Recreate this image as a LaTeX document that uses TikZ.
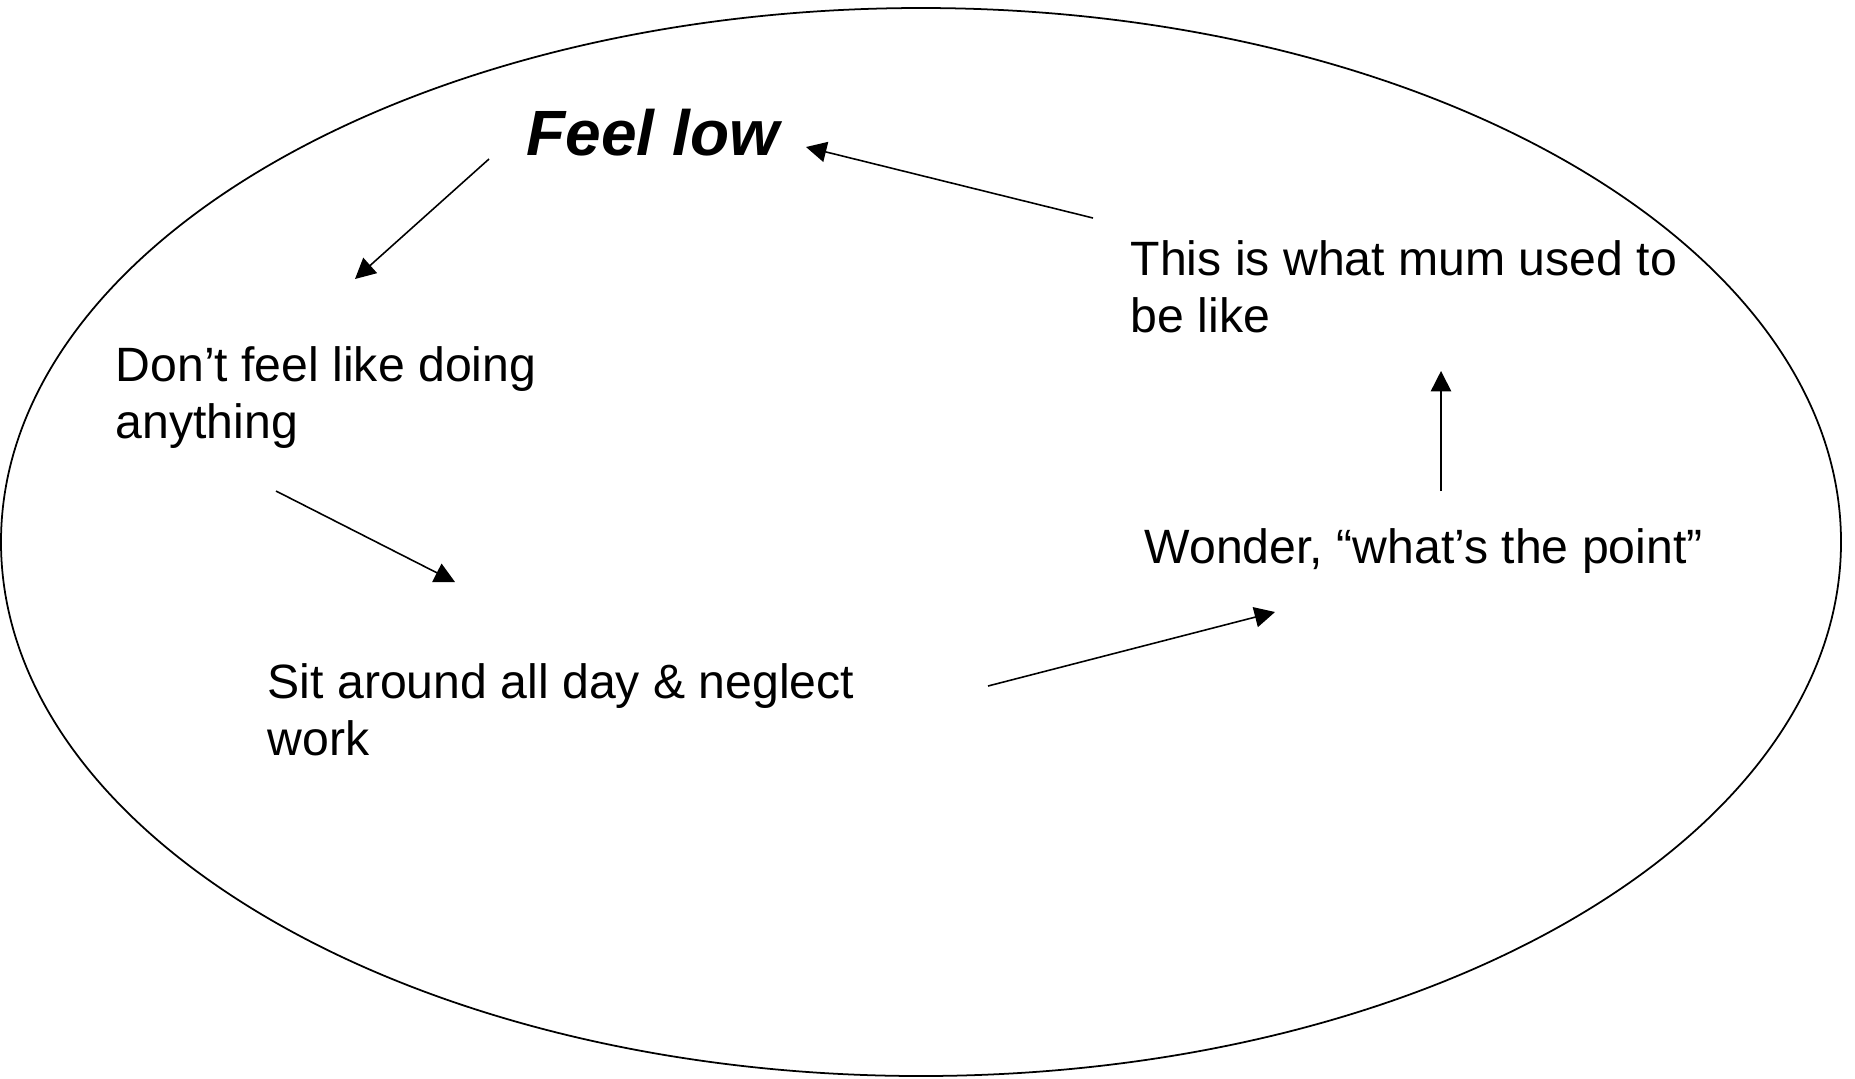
\documentclass[tikz,border=0pt]{standalone}
\usepackage{fontspec}
\setmainfont{Liberation Sans}
\usetikzlibrary{arrows.meta}

\begin{document}
\begin{tikzpicture}[x=0.01cm, y=-0.01cm, >={Triangle[length=5.8pt,width=5.8pt]},
    lbl/.style={anchor=base west, inner sep=0pt, align=left, font=\fontsize{13.7}{16}\selectfont},
    step arrow/.style={->, line width=0.45pt}]
    \useasboundingbox (0,0) rectangle (1855,1078);

    % the cycle
    \draw[line width=0.5pt] (921,542) ellipse [x radius=920, y radius=534];

    % two-line labels sit on their last baseline
    \node[lbl, font=\fontsize{18.2}{22}\selectfont\bfseries\itshape] (low) at (526,155) {Feel low};
    \node[lbl] (idle) at (115,438) {Don’t feel like doing\\anything};
    \node[lbl] (sit) at (267,755) {Sit around all day \& neglect\\work};
    \node[lbl] (point) at (1144,563) {Wonder, “what’s the point”};
    \node[lbl] (mum) at (1130,332) {This is what mum used to\\be like};

    \coordinate (low-out) at (489,159);
    \coordinate (idle-in) at (355,279);
    \coordinate (idle-out) at (276,491);
    \coordinate (sit-in) at (455,582);
    \coordinate (sit-out) at (988,686);
    \coordinate (point-in) at (1275,612);
    \coordinate (point-out) at (1441,491);
    \coordinate (mum-in) at (1441,371);
    \coordinate (mum-out) at (1093,218);
    \coordinate (low-in) at (806,147);

    \draw[step arrow] (low-out) -- (idle-in);
    \draw[step arrow] (idle-out) -- (sit-in);
    \draw[step arrow] (sit-out) -- (point-in);
    \draw[step arrow] (point-out) -- (mum-in);
    \draw[step arrow] (mum-out) -- (low-in);
\end{tikzpicture}
\end{document}
